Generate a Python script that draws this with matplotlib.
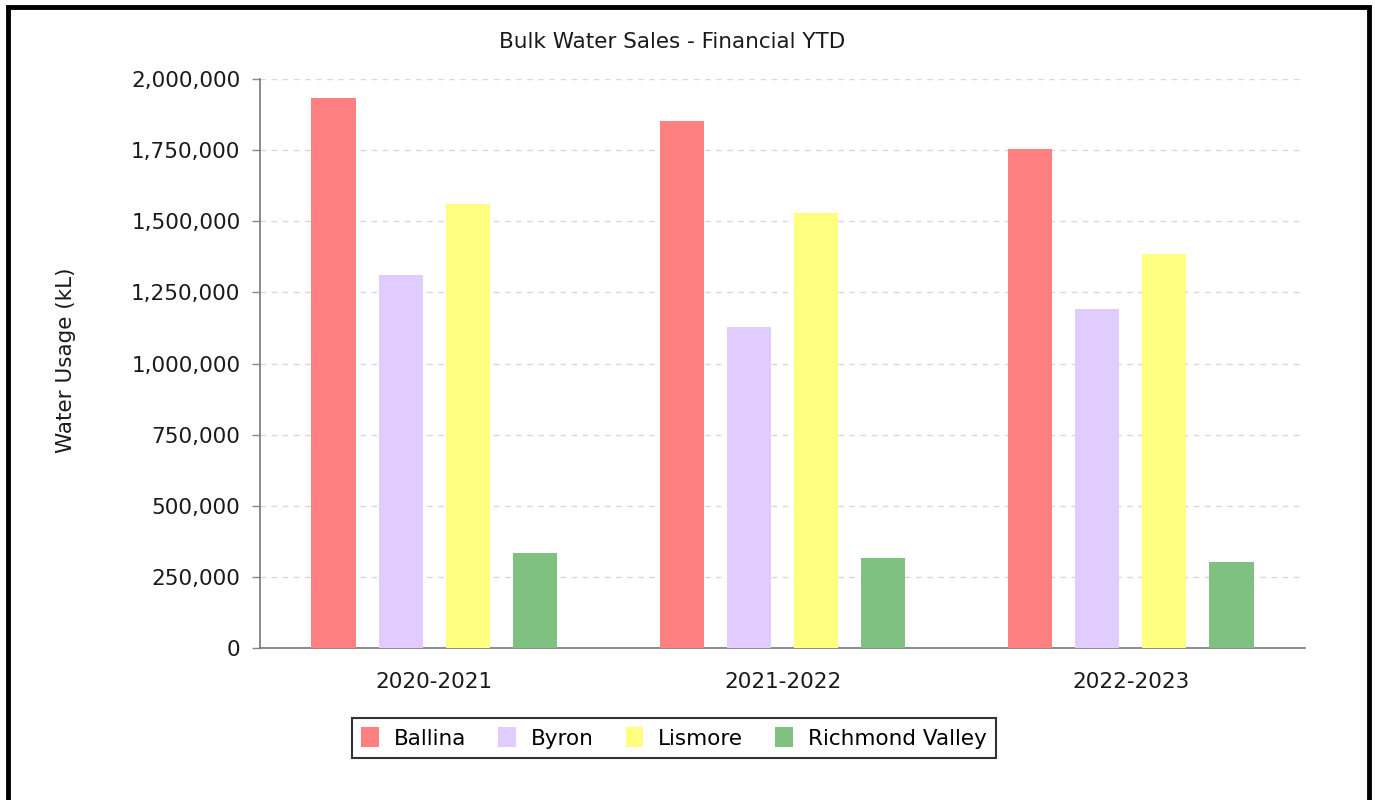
import numpy as np
import matplotlib.pyplot as plt
from matplotlib.patches import Rectangle
from matplotlib.ticker import FuncFormatter

# Data
years = ["2020-2021", "2021-2022", "2022-2023"]
ballina = [1933000, 1852000, 1754000]
byron = [1311000, 1128000, 1192000]
lismore = [1561000, 1529000, 1385000]
richmond = [334000, 316000, 302000]

series = ["Ballina", "Byron", "Lismore", "Richmond Valley"]
colors = ["#FF8080", "#E0CCFF", "#FFFF80", "#80C080"]

fs = 15.5
txt = "#1a1a1a"

fig = plt.figure(figsize=(13.75, 8), dpi=100)
ax = fig.add_axes([260/1375, 1 - 648/800, 1045/1375, 569/800])

x = np.arange(len(years))
slot = 0.1925
width = 0.127
for i, (vals, name, c) in enumerate(zip([ballina, byron, lismore, richmond], series, colors)):
    ax.bar(x + (i - 1.5) * slot, vals, width, color=c, label=name, zorder=3)

# Axes styling
ax.set_xlim(-0.5, 2.5)
ax.set_ylim(0, 2000000)
ax.set_yticks(np.arange(0, 2000001, 250000))
ax.yaxis.set_major_formatter(FuncFormatter(lambda v, p: f"{int(v):,}"))
ax.set_xticks(x)
ax.set_xticklabels(years)
ax.tick_params(axis="x", length=0, pad=17, labelsize=fs, colors=txt)
ax.tick_params(axis="y", length=6, width=1, color="#888888", pad=8, labelsize=fs, labelcolor=txt)

for s in ["top", "right"]:
    ax.spines[s].set_visible(False)
for s in ["left", "bottom"]:
    ax.spines[s].set_color("#777777")
    ax.spines[s].set_linewidth(1.2)

ax.grid(axis="y", color="#D8D8D8", linestyle=(0, (4, 4)), linewidth=1, zorder=0)

ax.set_ylabel("Water Usage (kL)", fontsize=fs, color=txt)
ax.yaxis.set_label_coords(-0.176, 0.506)

fig.text(672/1375, 1 - 42/800, "Bulk Water Sales - Financial YTD",
         ha="center", va="center", fontsize=fs, color=txt)

# Legend under the plot
leg = fig.legend(loc="center", bbox_to_anchor=(674/1375, 1 - 738/800), ncol=4,
                 fontsize=fs, frameon=True, fancybox=False, edgecolor="black",
                 handlelength=0.8, handleheight=1.0, handletextpad=0.7,
                 columnspacing=1.5, borderpad=0.45)
leg.get_frame().set_linewidth(1.5)

# Outer black frame
fig.patches.append(Rectangle((7.5/1375, -0.05), (1369 - 7.5)/1375, 1.05 - 7.5/800,
                             transform=fig.transFigure, fill=False,
                             edgecolor="black", linewidth=3.5))

fig.savefig("out.png", dpi=100)
